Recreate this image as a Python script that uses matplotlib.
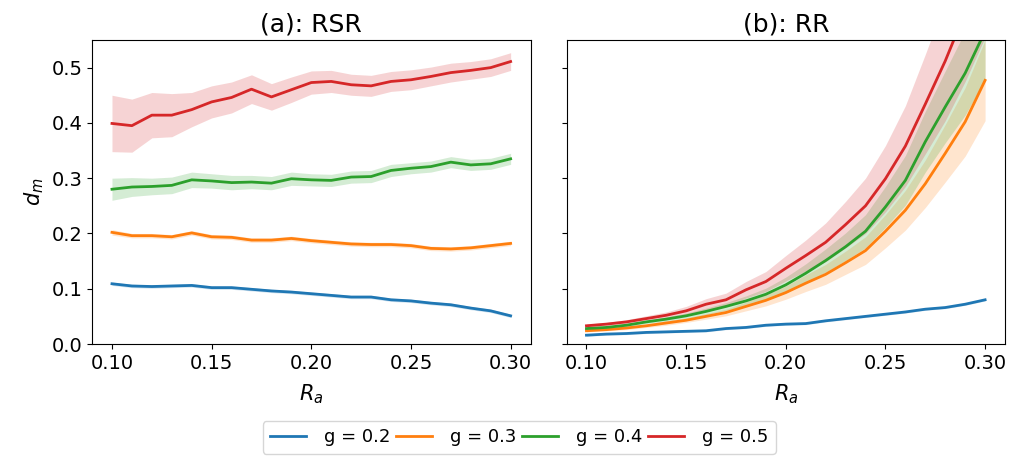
import numpy as np
import matplotlib
matplotlib.use("Agg")
import matplotlib.pyplot as plt

ra = [0.10, 0.11, 0.12, 0.13, 0.14, 0.15, 0.16, 0.17, 0.18, 0.19, 0.20,
      0.21, 0.22, 0.23, 0.24, 0.25, 0.26, 0.27, 0.28, 0.29, 0.30]
labels = ["g = 0.2", "g = 0.3", "g = 0.4", "g = 0.5"]
titles = ["(a): RSR", "(b): RR"]

# (a) RSR means
rsr_g02 = [0.109, 0.105, 0.104, 0.105, 0.106, 0.102, 0.102, 0.099, 0.096, 0.094, 0.091,
           0.088, 0.085, 0.085, 0.080, 0.078, 0.074, 0.071, 0.065, 0.060, 0.051]
rsr_g03 = [0.202, 0.196, 0.196, 0.194, 0.201, 0.194, 0.193, 0.188, 0.188, 0.191, 0.187,
           0.184, 0.181, 0.180, 0.180, 0.178, 0.173, 0.172, 0.174, 0.178, 0.182]
rsr_g04 = [0.280, 0.284, 0.285, 0.287, 0.297, 0.295, 0.292, 0.293, 0.291, 0.299, 0.297,
           0.296, 0.302, 0.303, 0.314, 0.318, 0.321, 0.329, 0.324, 0.326, 0.335]
rsr_g05 = [0.399, 0.395, 0.414, 0.414, 0.424, 0.438, 0.446, 0.461, 0.447, 0.460, 0.473,
           0.475, 0.469, 0.467, 0.475, 0.478, 0.484, 0.491, 0.495, 0.500, 0.511]
# (a) RSR spreads
rsr_g02_sd = [0.003] * 21
rsr_g03_sd = [0.005, 0.004, 0.004, 0.004, 0.004, 0.004, 0.004, 0.004, 0.004, 0.004, 0.004,
              0.004, 0.004, 0.004, 0.004, 0.004, 0.004, 0.004, 0.004, 0.004, 0.004]
rsr_g04_sd = [0.020, 0.017, 0.015, 0.015, 0.014, 0.013, 0.013, 0.012, 0.012, 0.012, 0.011,
              0.011, 0.011, 0.011, 0.011, 0.010, 0.010, 0.010, 0.010, 0.010, 0.010]
rsr_g05_sd = [0.051, 0.048, 0.041, 0.039, 0.031, 0.029, 0.028, 0.026, 0.024, 0.023, 0.021,
              0.020, 0.019, 0.019, 0.018, 0.018, 0.017, 0.017, 0.016, 0.016, 0.016]

# (b) RR means
rr_g02 = [0.016, 0.018, 0.019, 0.021, 0.022, 0.023, 0.024, 0.028, 0.030, 0.034, 0.036,
          0.037, 0.042, 0.046, 0.050, 0.054, 0.058, 0.063, 0.066, 0.072, 0.080]
rr_g03 = [0.024, 0.026, 0.029, 0.033, 0.038, 0.043, 0.050, 0.057, 0.068, 0.079, 0.093,
          0.110, 0.126, 0.147, 0.169, 0.204, 0.242, 0.290, 0.345, 0.402, 0.477]
rr_g04 = [0.028, 0.030, 0.034, 0.040, 0.045, 0.051, 0.059, 0.068, 0.078, 0.090, 0.107,
          0.128, 0.151, 0.176, 0.204, 0.248, 0.296, 0.366, 0.429, 0.490, 0.566]
rr_g05 = [0.033, 0.036, 0.040, 0.046, 0.052, 0.060, 0.072, 0.080, 0.098, 0.113, 0.137,
          0.160, 0.184, 0.216, 0.250, 0.299, 0.358, 0.434, 0.512, 0.600, 0.700]
# (b) RR spreads
rr_g02_sd = [0.002] * 21
rr_g03_sd = [0.002, 0.002, 0.003, 0.003, 0.004, 0.004, 0.005, 0.006, 0.008, 0.010, 0.012,
             0.015, 0.018, 0.021, 0.025, 0.030, 0.036, 0.043, 0.052, 0.062, 0.073]
rr_g04_sd = [0.002, 0.002, 0.003, 0.003, 0.004, 0.005, 0.006, 0.007, 0.009, 0.011, 0.014,
             0.017, 0.021, 0.025, 0.030, 0.037, 0.045, 0.055, 0.065, 0.076, 0.088]
rr_g05_sd = [0.003, 0.003, 0.004, 0.005, 0.006, 0.008, 0.010, 0.012, 0.015, 0.018, 0.023,
             0.028, 0.035, 0.042, 0.050, 0.060, 0.073, 0.090, 0.108, 0.125, 0.145]

colors = ["#1f77b4", "#ff7f0e", "#2ca02c", "#d62728"]

panels = [
    ([rsr_g02, rsr_g03, rsr_g04, rsr_g05], [rsr_g02_sd, rsr_g03_sd, rsr_g04_sd, rsr_g05_sd]),
    ([rr_g02, rr_g03, rr_g04, rr_g05], [rr_g02_sd, rr_g03_sd, rr_g04_sd, rr_g05_sd]),
]

fig, axes = plt.subplots(1, 2, figsize=(10.16, 4.59), dpi=100, sharey=True)
fig.subplots_adjust(left=0.0906, right=0.9892, bottom=0.2505, top=0.9129, wspace=0.082)

x = np.array(ra)
handles = []
for ax, (means, sds), title in zip(axes, panels, titles):
    for m, s, c, lab in zip(means, sds, colors, labels):
        m = np.array(m)
        s = np.array(s)
        ax.fill_between(x, m - s, m + s, color=c, alpha=0.2, linewidth=0)
        ln, = ax.plot(x, m, color=c, lw=2, label=lab)
        if ax is axes[0]:
            handles.append(ln)
    ax.set_title(title, fontsize=18)
    ax.set_xlabel("$R_a$", fontsize=15, labelpad=7)
    ax.set_xticks([0.10, 0.15, 0.20, 0.25, 0.30])
    ax.set_xticklabels(["0.10", "0.15", "0.20", "0.25", "0.30"])
    ax.tick_params(labelsize=14)
    ax.set_ylim(0, 0.55)
axes[0].set_yticks([0.0, 0.1, 0.2, 0.3, 0.4, 0.5])
axes[0].set_ylabel("$d_m$", fontsize=15)

fig.legend(handles, labels, loc="lower center", bbox_to_anchor=(0.511, -0.008), ncol=4,
           fontsize=13, columnspacing=0.3, handletextpad=1.0, frameon=True)

fig.savefig("out.png", dpi=100)
